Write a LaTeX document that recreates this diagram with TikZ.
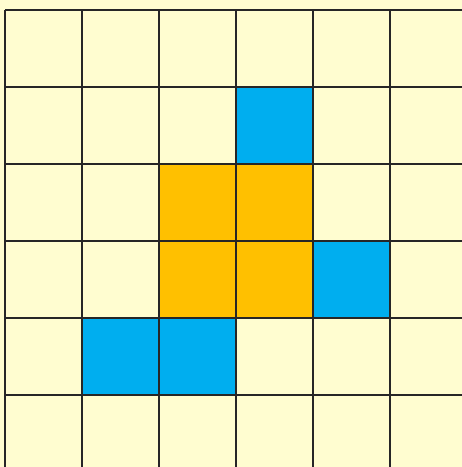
\documentclass[tikz,border=0pt]{standalone}
\definecolor{cream}{HTML}{FFFDD0}
\definecolor{cellblue}{HTML}{00AEEF}
\definecolor{cellorange}{HTML}{FFC000}
\begin{document}
\begin{tikzpicture}[x=1pt,y=-1pt,
  gridline/.style={draw=black!85,line width=1.6pt},
  bluecell/.style={fill=cellblue},
  orangecell/.style={fill=cellorange}]
\useasboundingbox (0,0) rectangle (462,467);
\fill[cream] (0,0) rectangle (462,467);
% cells: column c, row r -> x=5+77c, y=10+77r
\fill[bluecell] (236,87) rectangle (313,164);
\fill[orangecell] (159,164) rectangle (313,318);
\fill[bluecell] (313,241) rectangle (390,318);
\fill[bluecell] (82,318) rectangle (236,395);
\foreach \x in {5,82,159,236,313,390} \draw[gridline] (\x,10) -- (\x,467);
\foreach \y in {10,87,164,241,318,395} \draw[gridline] (5,\y) -- (462,\y);
\end{tikzpicture}
\end{document}
